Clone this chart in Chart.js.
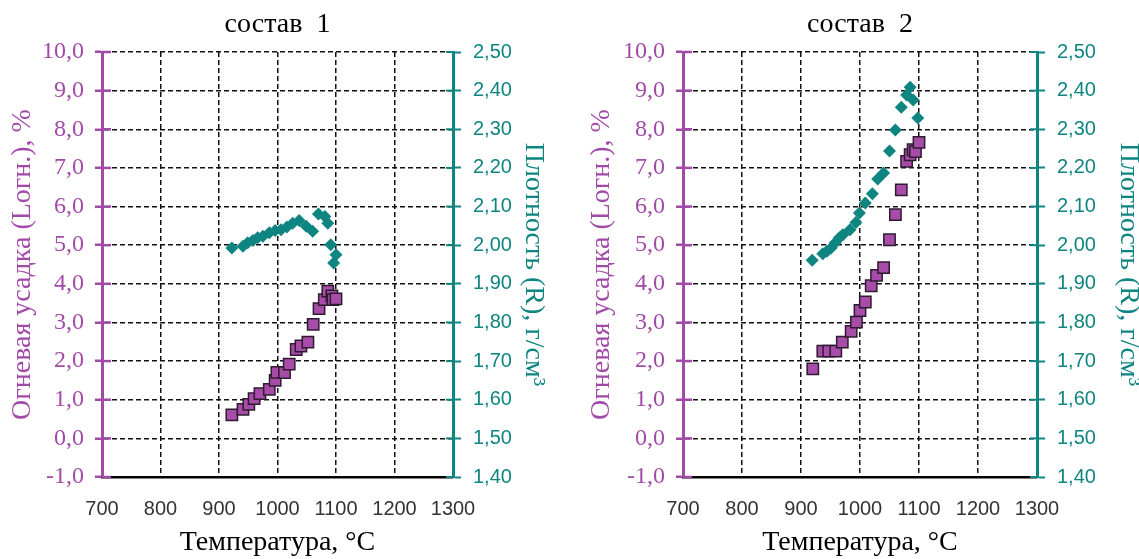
<!DOCTYPE html>
<html>
<head>
<meta charset="utf-8">
<script src="https://cdn.jsdelivr.net/npm/chart.js@4/dist/chart.umd.min.js"></script>
<style>
  html, body { margin: 0; padding: 0; background: #fff; overflow: hidden; }
  #c1 { position: absolute; left: 0; top: 0; }
  #c2 { position: absolute; left: 569px; top: 0; }
</style>
</head>
<body>
<canvas id="c1" width="569" height="559"></canvas>
<canvas id="c2" width="570" height="559"></canvas>
<script>
// состав 1
const tempShrink1 = [922, 941, 951, 960, 970, 986, 996, 999, 1012, 1020, 1032, 1040, 1052, 1061, 1071, 1080, 1086, 1093, 1095, 1100];
const shrink1 = [0.61, 0.75, 0.88, 1.03, 1.16, 1.27, 1.50, 1.71, 1.70, 1.92, 2.30, 2.39, 2.49, 2.95, 3.36, 3.59, 3.81, 3.69, 3.59, 3.61];
const tempDens1 = [922, 941, 949, 958, 966, 975, 986, 996, 1006, 1016, 1026, 1037, 1049, 1060, 1070, 1081, 1086, 1091, 1100, 1096];
const dens1 = [1.993, 1.997, 2.006, 2.012, 2.019, 2.023, 2.032, 2.038, 2.040, 2.047, 2.057, 2.064, 2.049, 2.036, 2.081, 2.074, 2.057, 2.001, 1.975, 1.954];

// состав 2
const tempShrink2 = [920, 937, 947, 959, 970, 985, 994, 1000, 1009, 1019, 1028, 1040, 1050, 1060, 1070, 1079, 1085, 1090, 1094, 1100];
const shrink2 = [1.80, 2.26, 2.26, 2.26, 2.49, 2.77, 3.01, 3.31, 3.53, 3.95, 4.22, 4.42, 5.14, 5.79, 6.43, 7.17, 7.34, 7.47, 7.42, 7.66];
const tempDens2 = [919, 937, 944, 951, 958, 965, 971, 983, 993, 999, 1009, 1021, 1030, 1040, 1050, 1060, 1070, 1079, 1085, 1090, 1098];
const dens2 = [1.961, 1.978, 1.984, 1.993, 2.006, 2.019, 2.027, 2.040, 2.059, 2.083, 2.109, 2.133, 2.171, 2.187, 2.244, 2.298, 2.357, 2.389, 2.409, 2.376, 2.329];

const titles = ['состав  1', 'состав  2'];
const xTitle = 'Температура, °C';
const yTitle = 'Огневая усадка (Lогн.), %';
const y1Title = 'Плотность (R), г/см³';

const MAGENTA = '#a24aa8';
const TEAL = '#0f8581';

const zip = (xs, ys) => xs.map((x, i) => ({ x: x, y: ys[i] }));

// short tick segments on the inner side of both value axes
const innerTicks = {
  id: 'innerTicks',
  afterDraw(chart) {
    const ctx = chart.ctx;
    [['y', MAGENTA, 9, 1, 2.5], ['y1', TEAL, 7, -1, 2]].forEach(([id, color, len, dir, w]) => {
      const s = chart.scales[id];
      const x0 = id === 'y' ? s.right : s.left;
      ctx.save();
      ctx.strokeStyle = color;
      ctx.lineWidth = w;
      s.ticks.forEach((t, i) => {
        const y = s.getPixelForTick(i);
        ctx.beginPath();
        ctx.moveTo(x0, y);
        ctx.lineTo(x0 + dir * len, y);
        ctx.stroke();
      });
      ctx.restore();
    });
  }
};

function makeChart(id, title, tS, s, tD, d, opt) {
  const ctx = document.getElementById(id).getContext('2d');
  return new Chart(ctx, {
    type: 'scatter',
    data: {
      datasets: [
        {
          label: 'Плотность',
          data: zip(tD, d),
          yAxisID: 'y1',
          pointStyle: 'rectRot',
          pointRadius: 6.5,
          backgroundColor: TEAL,
          borderColor: TEAL,
          borderWidth: 0
        },
        {
          label: 'Огневая усадка',
          data: zip(tS, s),
          yAxisID: 'y',
          pointStyle: 'rect',
          pointRadius: 8,
          backgroundColor: '#a74ca8',
          borderColor: '#2f1b30',
          borderWidth: 1.5
        }
      ]
    },
    options: {
      responsive: false,
      animation: false,
      layout: { padding: 0 },
      plugins: {
        legend: { display: false },
        tooltip: { enabled: false },
        title: {
          display: true,
          text: title,
          fullSize: false,
          color: '#000',
          font: { family: 'Liberation Serif', size: 28, weight: 'normal' },
          padding: { top: 8, bottom: 10.4 }
        }
      },
      scales: {
        x: {
          type: 'linear',
          min: 700,
          max: 1300,
          ticks: {
            stepSize: 100,
            color: '#333',
            padding: 20,
            maxRotation: 0,
            font: { family: 'Liberation Sans', size: 20 },
            callback: v => String(v)
          },
          grid: { color: '#111', lineWidth: 1.5, drawTicks: false },
          border: { display: true, color: '#000', width: 2.5, dash: [5, 3] },
          title: {
            display: true,
            text: xTitle,
            color: '#000',
            font: { family: 'Liberation Serif', size: 28 },
            padding: { top: 0, bottom: 0 }
          },
          afterFit(scale) { scale.height = 82; }
        },
        y: {
          type: 'linear',
          position: 'left',
          min: -1,
          max: 10,
          ticks: {
            stepSize: 1,
            color: MAGENTA,
            padding: 11,
            font: { family: 'Liberation Serif', size: 24 },
            callback: v => v.toFixed(1).replace('.', ',')
          },
          grid: { color: '#111', lineWidth: 1.5, tickLength: 7, tickColor: MAGENTA, tickWidth: 2.5 },
          border: { display: true, color: MAGENTA, width: 3, dash: [5, 3] },
          title: {
            display: true,
            text: yTitle,
            color: MAGENTA,
            font: { family: 'Liberation Serif', size: 28 },
            padding: { top: opt.yTitlePad, bottom: 0 }
          },
          afterFit(scale) { scale.width = opt.yWidth; }
        },
        y1: {
          type: 'linear',
          position: 'right',
          min: 1.4,
          max: 2.5,
          ticks: {
            stepSize: 0.1,
            color: TEAL,
            padding: 12,
            font: { family: 'Liberation Sans', size: 20 },
            callback: v => v.toFixed(2).replace('.', ',')
          },
          grid: { drawOnChartArea: false, tickLength: 8, tickColor: TEAL, tickWidth: 2 },
          border: { display: true, color: TEAL, width: 3 },
          title: {
            display: true,
            text: y1Title,
            color: TEAL,
            font: { family: 'Liberation Serif', size: 28 },
            padding: { top: opt.y1TitlePad, bottom: 0 }
          },
          afterFit(scale) { scale.width = opt.y1Width; }
        }
      }
    },
    plugins: [innerTicks]
  });
}

makeChart('c1', titles[0], tempShrink1, shrink1, tempDens1, dens1,
  { yWidth: 102, y1Width: 116, yTitlePad: 6, y1TitlePad: 19 });
makeChart('c2', titles[1], tempShrink2, shrink2, tempDens2, dens2,
  { yWidth: 114, y1Width: 102, yTitlePad: 16, y1TitlePad: -6 });
</script>
</body>
</html>
